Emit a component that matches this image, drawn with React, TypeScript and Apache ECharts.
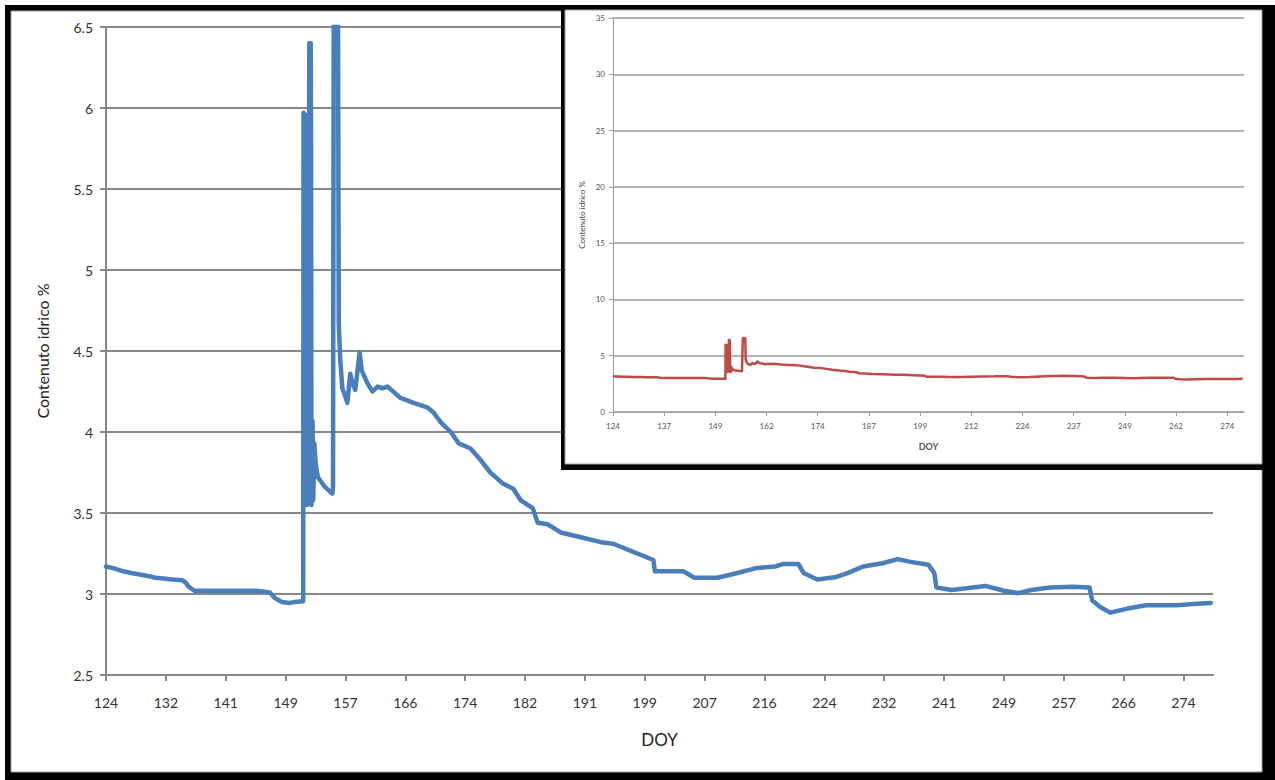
import { useEffect, useRef } from "react";
import * as echarts from "echarts";

// DOY (day of year) and soil water content (%)
const doy = [
  124.0, 125.0, 126.4, 127.5, 128.7, 130.0, 130.9, 132.0, 133.2, 134.6, 135.1, 135.5, 136.3, 138.9, 141.0,
  143.4, 145.0, 146.8, 147.5, 148.5, 149.5, 150.2, 151.45, 151.5, 151.72, 151.75, 151.95, 152.0, 152.15,
  152.3, 152.5, 152.55, 152.6, 152.75, 152.85, 153.0, 153.2, 153.5, 154.0, 154.5, 155.0, 155.5, 155.6,
  155.7, 156.3, 156.4, 156.6, 156.9, 157.3, 157.6, 158.0, 158.3, 158.7, 159.3, 159.6, 160.4, 161.1, 161.8,
  162.5, 163.2, 165.0, 166.8, 168.8, 169.6, 170.6, 172.0, 173.1, 174.7, 176.1, 177.5, 179.3, 180.7, 181.7,
  183.4, 184.1, 185.5, 187.3, 190.1, 192.9, 194.6, 197.4, 200.2, 200.4, 202.0, 204.4, 205.9, 209.1, 211.9,
  214.5, 217.2, 218.2, 220.4, 221.1, 223.0, 225.7, 227.3, 229.4, 232.1, 234.2, 235.8, 238.5, 239.3, 239.6,
  241.7, 243.8, 246.4, 249.0, 251.0, 252.8, 255.4, 258.6, 260.9, 261.3, 262.4, 263.8, 266.2, 268.8, 273.1,
  275.8, 277.8,
];
const water = [
  3.17, 3.16, 3.14, 3.13, 3.12, 3.11, 3.10, 3.095, 3.09, 3.085, 3.07, 3.045, 3.02, 3.02, 3.02,
  3.02, 3.02, 3.01, 2.975, 2.95, 2.945, 2.95, 2.955, 5.97, 5.96, 5.83, 5.82, 3.55, 3.62,
  6.40, 6.40, 5.73, 3.55, 4.07, 3.58, 3.93, 3.80, 3.72, 3.69, 3.66, 3.64, 3.62, 3.66,
  6.55, 6.55, 4.67, 4.45, 4.27, 4.22, 4.18, 4.36, 4.30, 4.26, 4.49, 4.38, 4.30, 4.25, 4.28,
  4.27, 4.28, 4.21, 4.18, 4.15, 4.12, 4.06, 4.00, 3.93, 3.90, 3.83, 3.75, 3.68, 3.65, 3.58,
  3.53, 3.44, 3.43, 3.38, 3.35, 3.32, 3.31, 3.26, 3.21, 3.14, 3.14, 3.14, 3.10, 3.10, 3.13,
  3.16, 3.17, 3.185, 3.185, 3.13, 3.09, 3.105, 3.13, 3.17, 3.19, 3.215, 3.20, 3.18, 3.13, 3.04,
  3.025, 3.035, 3.05, 3.02, 3.005, 3.025, 3.04, 3.045, 3.04, 2.96, 2.92, 2.885, 2.91, 2.93, 2.93,
  2.94, 2.945,
];

// Category-style tick labels (Excel labelled every 200 hourly points in the main chart, 300 in the inset)
const mainXLabels = [124, 132, 141, 149, 157, 166, 174, 182, 191, 199, 207, 216, 224, 232, 241, 249, 257, 266, 274];
const insetXLabels = [124, 137, 149, 162, 174, 187, 199, 212, 224, 237, 249, 262, 274];
const mainStep = 200 / 24;
const insetStep = 300 / 24;

const FONT = "Lato, 'Open Sans', sans-serif";

export default function App() {
  const ref = useRef<HTMLDivElement>(null);
  useEffect(() => {
    const chart = echarts.init(ref.current!, null, { renderer: "svg" });
    const data = doy.map((d, i) => [d, water[i]]);
    const mainTicks = mainXLabels.map((_, k) => 124 + k * mainStep);
    const insetTicks = insetXLabels.map((_, k) => 124 + k * insetStep);
    const mainFmt = (v: number) => String(mainXLabels[Math.round((v - 124) / mainStep)] ?? "");
    const insetFmt = (v: number) => String(insetXLabels[Math.round((v - 124) / insetStep)] ?? "");

    const gray = "#878787";
    const igray = "#9a9a9a";

    chart.setOption({
      animation: false,
      textStyle: { fontFamily: FONT },
      graphic: [
        { type: "rect", z: -10, silent: true, shape: { x: 5, y: 5, width: 1270, height: 775 }, style: { fill: "#000" } },
        { type: "rect", z: -9, silent: true, shape: { x: 11, y: 11, width: 1251, height: 761 }, style: { fill: "#fff", stroke: "#a0a0a0", lineWidth: 1 } },
        { type: "rect", z: 50, silent: true, shape: { x: 561, y: 5, width: 714, height: 465 }, style: { fill: "#000" } },
        { type: "rect", z: 51, silent: true, shape: { x: 565, y: 10, width: 697, height: 454 }, style: { fill: "#fff", stroke: "#a0a0a0", lineWidth: 1 } },
      ],
      grid: [
        { left: 106, top: 27, width: 1107, height: 648 },
        { left: 613, top: 18, width: 631, height: 394, z: 60 },
      ],
      xAxis: [
        {
          gridIndex: 0,
          type: "value",
          min: 124,
          max: 278.1,
          axisLine: { lineStyle: { color: gray, width: 2 } },
          axisTick: { customValues: mainTicks, length: 6, lineStyle: { color: gray, width: 2 } },
          axisLabel: { customValues: mainTicks, formatter: mainFmt, margin: 20, fontSize: 14, color: "#333", fontFamily: FONT },
          splitLine: { show: false },
          name: "DOY",
          nameLocation: "middle",
          nameGap: 56,
          nameTextStyle: { fontSize: 17, color: "#222", fontFamily: FONT },
        },
        {
          gridIndex: 1,
          type: "value",
          z: 60,
          min: 124,
          max: 278.1,
          axisLine: { lineStyle: { color: igray, width: 1 } },
          axisTick: { customValues: insetTicks, length: 4, lineStyle: { color: igray, width: 1 } },
          axisLabel: { customValues: insetTicks, formatter: insetFmt, margin: 10, fontSize: 8, color: "#555", fontFamily: FONT },
          splitLine: { show: false },
          name: "DOY",
          nameLocation: "middle",
          nameGap: 30,
          nameTextStyle: { fontSize: 9, fontWeight: "bold", color: "#555", fontFamily: FONT },
        },
      ],
      yAxis: [
        {
          gridIndex: 0,
          type: "value",
          min: 2.5,
          max: 6.5,
          interval: 0.5,
          axisLine: { show: true, lineStyle: { color: gray, width: 2 } },
          axisTick: { show: true, length: 6, lineStyle: { color: gray, width: 2 } },
          axisLabel: { margin: 13, fontSize: 14, color: "#333", fontFamily: FONT },
          splitLine: { show: true, lineStyle: { color: gray, width: 2 } },
          name: "Contenuto idrico %",
          nameLocation: "middle",
          nameGap: 56,
          nameTextStyle: { fontSize: 16, color: "#222", fontFamily: FONT },
        },
        {
          gridIndex: 1,
          type: "value",
          z: 60,
          min: 0,
          max: 35,
          interval: 5,
          axisLine: { show: true, lineStyle: { color: igray, width: 1 } },
          axisTick: { show: true, length: 4, lineStyle: { color: igray, width: 1 } },
          axisLabel: { margin: 8, fontSize: 8, color: "#555", fontFamily: FONT },
          splitLine: { show: true, lineStyle: { color: igray, width: 1.5 } },
          name: "Contenuto idrico %",
          nameLocation: "middle",
          nameGap: 27,
          nameTextStyle: { fontSize: 8, color: "#444", fontFamily: FONT },
        },
      ],
      series: [
        {
          type: "line",
          xAxisIndex: 0,
          yAxisIndex: 0,
          data,
          symbol: "none",
          z: 2,
          lineStyle: { color: "#4a7ebb", width: 4.5, join: "round", cap: "round" },
        },
        {
          type: "line",
          xAxisIndex: 1,
          yAxisIndex: 1,
          data,
          symbol: "none",
          z: 70,
          lineStyle: { color: "#be4b48", width: 2.5, join: "round" },
        },
      ],
    });
    return () => chart.dispose();
  }, []);
  return <div ref={ref} style={{ position: "absolute", left: 0, top: 0, width: 1275, height: 780 }} />;
}
